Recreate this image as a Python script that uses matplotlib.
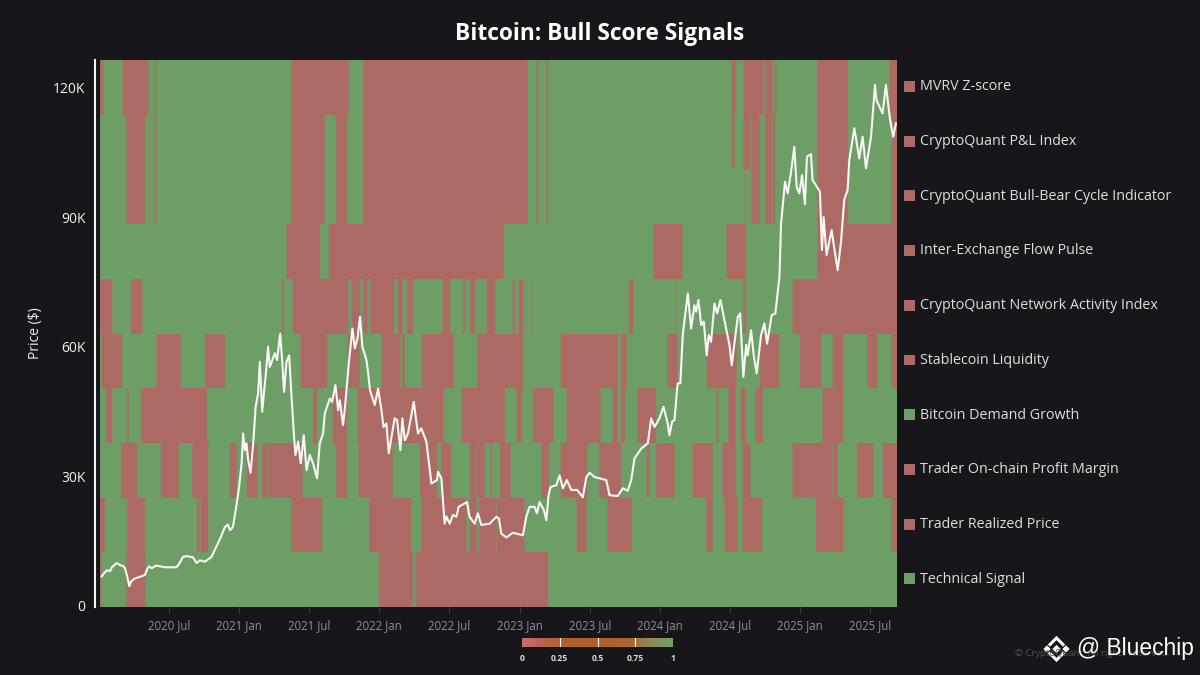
import numpy as np
import matplotlib
matplotlib.use("Agg")
import matplotlib.pyplot as plt
from matplotlib.colors import LinearSegmentedColormap

plt.rcParams['font.family'] = ['Open Sans', 'DejaVu Sans']

# ---------- data ----------
signals = ["MVRV Z-score", "CryptoQuant P&L Index", "CryptoQuant Bull-Bear Cycle Indicator",
           "Inter-Exchange Flow Pulse", "CryptoQuant Network Activity Index", "Stablecoin Liquidity",
           "Bitcoin Demand Growth", "Trader On-chain Profit Margin", "Trader Realized Price",
           "Technical Signal"]
START, END = 2020.01, 2025.69

# periods (decimal years) in which each signal is 0 (bearish); it is 1 otherwise
off_mvrv = [(2020.01,2020.03),(2020.17,2020.345),(2020.35,2020.36),(2020.40,2020.41),(2021.375,2021.78),
            (2021.885,2023.055),(2023.12,2023.13),(2023.19,2023.20),(2024.51,2024.54),(2024.595,2024.74),
            (2024.75,2024.80),(2024.82,2024.83),(2025.12,2025.34),(2025.635,2025.69)]
off_pnl = [(2020.195,2020.33),(2020.365,2020.37),(2020.40,2020.41),(2021.375,2021.61),(2021.69,2021.77),
           (2021.885,2023.055),(2023.12,2023.13),(2023.19,2023.20),(2024.51,2024.53),(2024.595,2024.64),
           (2024.65,2024.71),(2024.75,2024.795),(2024.80,2024.82),(2025.12,2025.34),(2025.65,2025.69)]
off_cycle = [(2020.195,2020.33),(2020.365,2020.37),(2020.40,2020.41),(2021.375,2021.61),(2021.69,2021.77),
             (2021.885,2023.055),(2023.12,2023.13),(2023.19,2023.20),(2024.595,2024.60),
             (2024.65,2024.71),(2024.75,2024.795),(2024.80,2024.82),(2025.12,2025.34),(2025.65,2025.69)]
off_flow = [(2021.34,2021.576),(2021.64,2022.886),(2023.954,2024.16),(2024.474,2024.61),(2025.122,2025.69)]
off_network = [(2020.01,2020.095),(2020.23,2020.31),(2021.306,2021.32),(2021.384,2021.776),(2021.804,2021.861),
               (2021.883,2021.918),(2021.94,2022.103),(2022.132,2022.167),(2022.196,2022.239),(2022.452,2022.502),
               (2022.595,2022.61),(2022.644,2022.68),(2022.765,2022.822),(2022.95,2022.965),(2022.993,2023.029),
               (2023.086,2023.092),(2023.776,2023.812),(2024.111,2024.116),(2024.595,2024.61),(2024.944,2025.69)]
off_stable = [(2020.02,2020.165),(2020.41,2020.58),(2020.76,2020.90),(2021.434,2021.626),(2021.775,2021.86),
              (2022.018,2022.146),(2022.16,2022.18),(2022.303,2022.53),(2022.70,2023.022),(2023.292,2023.698),
              (2023.72,2023.762),(2024.054,2024.125),(2024.332,2024.545),(2024.71,2024.852),(2024.994,2025.151),
              (2025.229,2025.307),(2025.478,2025.549),(2025.65,2025.69)]
off_demand = [(2020.05,2020.095),(2020.20,2020.215),(2020.302,2020.772),(2021.527,2021.555),(2021.669,2021.769),
              (2021.847,2022.459),(2022.587,2022.894),(2022.979,2023.015),(2023.093,2023.242),(2023.335,2023.577),
              (2023.665,2023.70),(2023.72,2023.75),(2023.84,2023.969),(2024.40,2024.415),(2024.488,2024.538),
              (2024.574,2024.61),(2024.681,2024.731),(2025.158,2025.307)]
off_margin = [(2020.16,2020.275),(2020.445,2020.57),(2020.665,2020.78),(2020.935,2020.98),(2021.055,2021.13),
              (2021.165,2021.20),(2021.205,2021.455),(2021.69,2021.77),(2021.85,2022.095),(2022.29,2022.41),
              (2022.44,2022.515),(2022.645,2022.695),(2022.70,2022.75),(2022.79,2022.80),(2022.86,2022.935),
              (2023.155,2023.21),(2023.29,2023.48),(2023.565,2023.72),(2023.905,2023.925),(2023.97,2024.105),
              (2024.23,2024.375),(2024.445,2024.54),(2024.59,2024.645),(2024.945,2025.23),(2025.235,2025.265),
              (2025.405,2025.52),(2025.585,2025.69)]
off_realized = [(2020.01,2020.045),(2020.20,2020.33),(2020.70,2020.72),(2020.73,2020.78),(2021.375,2021.59),
                (2021.93,2022.23),(2022.30,2022.62),(2022.645,2022.695),(2022.71,2022.835),(2022.84,2023.035),
                (2023.405,2023.475),(2023.625,2023.80),(2024.33,2024.375),(2024.46,2024.55),(2024.59,2024.725),
                (2025.11,2025.31),(2025.65,2025.69)]
off_technical = [(2020.01,2020.017),(2020.195,2020.335),(2021.995,2022.24),(2022.26,2023.20)]
signal_off = [off_mvrv, off_pnl, off_cycle, off_flow, off_network, off_stable, off_demand,
              off_margin, off_realized, off_technical]

price_year = [2020.022,2020.038,2020.058,2020.081,2020.095,2020.129,2020.152,2020.174,2020.188,2020.202,
              2020.219,2020.231,2020.259,2020.295,2020.330,2020.345,2020.359,2020.380,2020.409,2020.473,
              2020.556,2020.580,2020.601,2020.629,2020.672,2020.699,2020.722,2020.758,2020.805,2020.829,
              2020.850,2020.872,2020.900,2020.921,2020.936,2020.957,2020.983,
              2021.000,2021.019,2021.030,2021.042,2021.054,2021.066,2021.083,2021.102,2021.119,2021.137,
              2021.149,2021.166,2021.180,2021.190,2021.208,2021.220,2021.256,2021.272,2021.294,2021.308,
              2021.322,2021.339,2021.358,2021.375,2021.393,2021.403,2021.422,2021.441,2021.462,2021.482,
              2021.505,2021.529,2021.557,2021.576,2021.600,2021.612,2021.648,2021.664,2021.688,2021.707,
              2021.719,2021.742,2021.754,2021.783,2021.809,2021.826,2021.845,2021.863,2021.880,2021.909,
              2021.920,2021.934,2021.968,2021.992,2022.016,2022.030,
              2022.051,2022.068,2022.110,2022.127,2022.151,2022.165,2022.182,2022.205,2022.246,2022.276,
              2022.300,2022.336,2022.372,2022.412,2022.419,2022.443,2022.466,2022.478,2022.502,2022.525,
              2022.550,2022.566,2022.625,2022.644,2022.680,2022.703,2022.728,2022.787,2022.835,2022.853,
              2022.870,2022.906,2022.953,2023.024,2023.048,2023.072,2023.107,
              2023.124,2023.143,2023.174,2023.191,2023.207,2023.221,2023.262,2023.285,2023.309,2023.337,
              2023.369,2023.411,2023.451,2023.476,2023.499,2023.534,2023.618,2023.641,2023.700,2023.736,
              2023.771,2023.796,2023.819,2023.867,2023.914,2023.938,2023.962,2023.997,2024.026,2024.056,
              2024.068,2024.087,2024.104,2024.127,2024.146,2024.163,2024.199,2024.223,2024.246,2024.258,
              2024.275,2024.294,2024.313,2024.334,2024.348,2024.365,2024.389,2024.408,2024.432,2024.472,
              2024.496,2024.512,2024.555,2024.572,2024.595,2024.615,2024.626,2024.650,2024.669,2024.690,
              2024.721,2024.745,2024.764,2024.797,2024.823,2024.852,2024.864,2024.892,2024.911,2024.935,
              2024.958,2024.975,2024.994,2025.013,2025.034,2025.048,2025.077,2025.088,2025.141,2025.155,
              2025.167,2025.188,2025.224,2025.243,2025.267,2025.291,2025.314,2025.338,2025.350,2025.386,
              2025.421,2025.445,2025.469,2025.505,2025.533,2025.544,2025.587,2025.611,2025.639,2025.663,
              2025.682]
price_k = [6.8,7.5,8.2,8.0,8.9,9.9,9.4,9.2,8.7,7.0,
           4.5,5.6,6.3,6.7,7.1,8.4,9.1,8.7,9.3,8.9,
           8.9,10.0,11.3,11.5,11.2,9.9,10.5,10.2,11.3,13.0,
           14.4,16.0,18.2,18.8,17.5,18.2,23.3,
           27.2,32.9,39.9,36,37.6,33.7,30.8,37.6,46,49.2,
           56.5,44.9,49.9,53,60,55.3,58.5,56.9,63,56.9,
           49.5,56.5,58,48.4,39.1,34.9,38,33,39.5,31.4,
           34.9,32.9,29.5,37.6,39.9,44.5,48,47.2,51.1,45.3,
           47.6,41.8,45.3,56.1,64.2,59.6,61.9,66.9,60,56.9,
           54.2,49.9,46.5,50.3,45.3,41.4,
           42.2,35.3,43.4,43,36,43.4,38.3,39.9,47.2,39.9,
           41.1,38,28.3,29.1,31,29.5,19,20.7,19,21,
           20.6,22.9,24,20.6,19,21.4,18.7,19,20.6,20.2,
           16.7,15.8,16.9,16.3,20.6,22.9,22.9,
           21.4,24,22.1,19.8,25.6,27.5,27.9,30.2,27.2,29.1,
           26.8,26.8,25.1,29.8,30.8,29.8,29.1,25.6,25.4,27.2,
           26.6,29.1,34.1,36.4,37.6,43.4,41.4,43.4,46.1,42.2,
           39.5,42.6,43,51.5,51.5,62.7,72.3,64.2,69.6,68.1,
           70.8,65,65.8,58,62.7,61.1,70,67.7,70.8,64.2,
           60.4,55.7,66.9,67.7,53,60.4,58,63.8,58,53.8,
           62.7,65.4,60.7,67.3,67.7,76.2,88.6,98.2,95.5,100.5,
           106.3,97,95.5,99.7,93,104,104.6,98.6,95.9,82.4,
           90,81.2,87,82.8,77.7,84.3,94,96.3,103.2,110.6,
           103.6,108.6,101.3,108.6,120.6,117.1,114,120.6,112.9,108.6,
           111.7]

y_ticks = [0, 30000, 60000, 90000, 120000]
y_labels = ["0", "30K", "60K", "90K", "120K"]
x_ticks = [2020.5, 2021.0, 2021.5, 2022.0, 2022.5, 2023.0, 2023.5, 2024.0, 2024.5, 2025.0, 2025.5]
x_labels = ["2020 Jul", "2021 Jan", "2021 Jul", "2022 Jan", "2022 Jul", "2023 Jan",
            "2023 Jul", "2024 Jan", "2024 Jul", "2025 Jan", "2025 Jul"]
scale_values = [0, 0.25, 0.5, 0.75, 1]
scale_labels = ["0", "0.25", "0.5", "0.75", "1"]

# ---------- style ----------
BG = "#17171b"
RED = "#ad6a65"
GREEN = "#6d9e65"
W, H = 1200, 675

fig = plt.figure(figsize=(12, 6.75), dpi=100, facecolor=BG)

ax_h = fig.add_axes([95/W, (H-607)/H, 802/W, 547/H])
ax = ax_h.twinx()

# heat map: each cell shows the signal over about five days, so very short spells look faint
grid = np.arange(START, END + 1/365.25, 1/365.25)
matrix = np.ones((len(signals), len(grid) - 1))
for row, periods in enumerate(signal_off):
    for a, b in periods:
        matrix[row, (grid[:-1] >= a - 1e-9) & (grid[:-1] < b)] = 0
last_vals = matrix[:, -1].copy()
kernel = np.ones(5) / 5
shown = np.array([np.convolve(np.pad(r, 2, mode="edge"), kernel, mode="valid") for r in matrix])
heat_cmap = LinearSegmentedColormap.from_list("signal", [RED, GREEN])
ax_h.pcolormesh(grid, np.arange(len(signals) + 1), shown, cmap=heat_cmap,
                vmin=0, vmax=1, shading="flat", linewidth=0, antialiased=False)
ax_h.set_ylim(len(signals), 0)
ax_h.set_xlim(START - 5*0.00712, END)
ax_h.set_facecolor(BG)
ax_h.yaxis.set_visible(False)

# price
ax.plot(price_year, np.array(price_k) * 1000, color="#f7f7f7", lw=1.5, solid_joinstyle="round")
ax.set_ylim(-300, 126400)
ax.yaxis.tick_left()
ax.yaxis.set_label_position("left")
ax.set_yticks(y_ticks, y_labels, color="#f2f2f2", fontsize=10)
ax.tick_params(axis="y", length=0, pad=7)
ax.set_xticks(x_ticks, x_labels)

ax_h.set_xticks(x_ticks, x_labels, color="#8f8f92", fontsize=8.3)
ax_h.tick_params(axis="x", length=4, width=0.7, color="#3a3a3e", pad=5)
ax.tick_params(axis="x", length=0, labelbottom=False)

for a in (ax, ax_h):
    for s in a.spines.values():
        s.set_visible(False)
ax.spines["left"].set_visible(True)
ax.spines["left"].set_color("#f4f4f4")
ax.spines["left"].set_linewidth(1.5)

# right-hand signal list
row_centres = np.arange(len(signals)) + 0.5
ax_h.scatter(np.full(len(signals), (909.5-95)/802), row_centres - 0.015, s=62, marker="s", linewidths=0,
             c=[GREEN if v == 1 else RED for v in last_vals], transform=ax_h.get_yaxis_transform(), clip_on=False)
for yc, name in zip(row_centres, signals):
    ax_h.text((920-95)/802, yc - 0.01, name, transform=ax_h.get_yaxis_transform(), ha="left", va="center",
              color="#dedede", fontsize=10.3)

# titles
fig.text(600/W, 1-33.5/H, "Bitcoin: Bull Score Signals", ha="center", va="center",
         color="white", fontsize=16.4, fontweight="bold")
fig.text(36/W, 1-333/H, "Price ($)", rotation=90, ha="center", va="center", color="#eeeeee", fontsize=10)

# colour scale
ax_c = fig.add_axes([522/W, (H-647)/H, 151/W, 9/H])
scale_cmap = LinearSegmentedColormap.from_list(
    "scale", [(0, "#c96f6c"), (0.12, "#b9664f"), (0.25, "#b3612f"), (0.5, "#ad6127"),
              (0.72, "#a8682f"), (0.85, "#8f8a5a"), (1, "#6fa265")])
ax_c.imshow(np.linspace(0, 1, 256)[None, :], aspect="auto", cmap=scale_cmap, extent=(0, 1, 0, 1))
for v in scale_values[1:-1]:
    ax_c.axvline(v, color="white", lw=0.8)
ax_c.set_xticks(scale_values, scale_labels, color="#d8d8d8", fontsize=6.2, fontweight="bold")
ax_c.tick_params(axis="x", length=0, pad=5)
ax_c.set_yticks([])
for s in ax_c.spines.values():
    s.set_visible(False)

# watermarks
fig.text(1170/W, 1-654/H, "© CryptoQuant. All rights reserved.", ha="right", va="center",
         color="#4f4f54", fontsize=6.8)
fig.text(1077/W, 1-649/H, "@ Bluechip", ha="left", va="center", color="white",
         fontsize=16.4, family="Liberation Sans")
ax_o = fig.add_axes([0, 0, 1, 1], facecolor="none")
ax_o.set_xlim(0, W)
ax_o.set_ylim(H, 0)
ax_o.axis("off")
ax_o.scatter([1056.5, 1047, 1066], [649, 649, 649], marker="D", s=[18, 14, 14], c="white", linewidths=0)
ax_o.plot([1050, 1056.5, 1063], [644.5, 638, 644.5], color="white", lw=2.2, solid_joinstyle="miter")
ax_o.plot([1050, 1056.5, 1063], [653.5, 660, 653.5], color="white", lw=2.2, solid_joinstyle="miter")

fig.savefig("out.png", dpi=100, facecolor=BG)
